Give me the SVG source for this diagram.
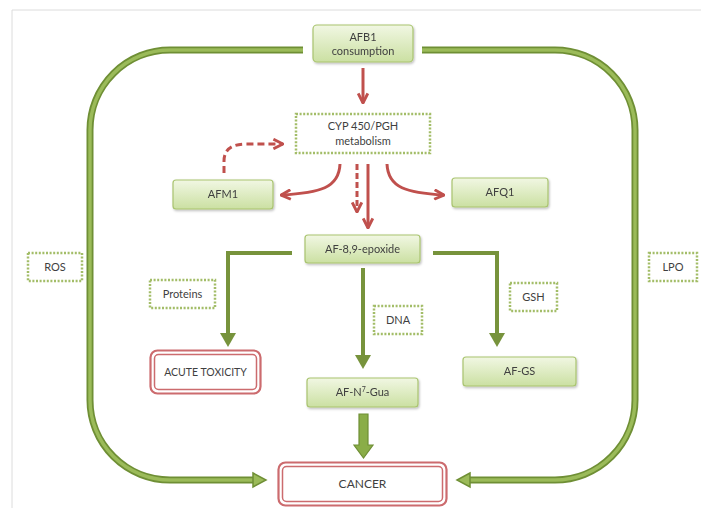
<svg xmlns="http://www.w3.org/2000/svg" width="701" height="508" viewBox="0 0 701 508">
<style>
text{font-family:Lato,"Liberation Sans",sans-serif;font-size:11px;fill:#3f3f3f;text-anchor:middle}
.gn{fill:url(#gg);stroke:#a9c46f;stroke-width:1.2}
.dot{fill:#fff;stroke:#a3bd68;stroke-width:2.5;stroke-dasharray:2 1.6}
.red{fill:none;stroke:#c0504d;stroke-width:3}
.rb{fill:#fff;stroke:#cc6b6e}
.go{fill:none;stroke:#6f8f35;stroke-width:7}
.gi{fill:none;stroke:#9bbb59;stroke-width:3.4}
.gl{fill:none;stroke:#77933c;stroke-width:4}
.gh{fill:#77933c}
</style>
<defs>
<linearGradient id="gg" x1="0" y1="0" x2="0" y2="1">
<stop offset="0" stop-color="#f1f7e3"/>
<stop offset="1" stop-color="#cbe0a2"/>
</linearGradient>
<filter id="sh" x="-10%" y="-20%" width="130%" height="150%">
<feDropShadow dx="1" dy="1.5" stdDeviation="1.2" flood-color="#000" flood-opacity="0.25"/>
</filter>
<marker id="ra" viewBox="0 0 10 10" refX="9" refY="5" markerWidth="12" markerHeight="12" markerUnits="userSpaceOnUse" orient="auto">
<path d="M1,1 L9,5 L1,9" fill="none" stroke="#c0504d" stroke-width="2.4"/>
</marker>
</defs>
<rect width="701" height="508" fill="#fff"/>
<path d="M12,508 V10 H701" fill="none" stroke="#dcdcdc" stroke-width="1"/>

<g id="connectors">
<path class="go" d="M303,50 H170 A80,80 0 0 0 90,130 V400 A80,80 0 0 0 170,480 H255"/>
<path class="gi" d="M303,50 H170 A80,80 0 0 0 90,130 V400 A80,80 0 0 0 170,480 H256"/>
<polygon points="253,473 266,480 253,487" fill="#9bbb59" stroke="#6f8f35" stroke-width="1.5"/>
<path class="go" d="M422,50 H555 A80,80 0 0 1 635,130 V400 A80,80 0 0 1 555,480 H469"/>
<path class="gi" d="M422,50 H555 A80,80 0 0 1 635,130 V400 A80,80 0 0 1 555,480 H468"/>
<polygon points="470,473 457,480 470,487" fill="#9bbb59" stroke="#6f8f35" stroke-width="1.5"/>

<path class="red" d="M363,68 V103" marker-end="url(#ra)"/>
<path class="red" d="M224,173 V161 Q224,144 246,144 H283" stroke-dasharray="7 4" marker-end="url(#ra)"/>
<path class="red" d="M340,164 C339,188 320,193 281,195" marker-end="url(#ra)"/>
<path class="red" d="M387,164 C388,188 407,193 444,195" marker-end="url(#ra)"/>
<path class="red" d="M357,164 V212" stroke-dasharray="6 3" marker-end="url(#ra)"/>
<path class="red" d="M368,164 V228" marker-end="url(#ra)"/>

<path class="gl" d="M292,253 H228 V336"/>
<polygon class="gh" points="220,333 236,333 228,347"/>
<path class="gl" d="M363,268 V358"/>
<polygon class="gh" points="355,355 371,355 363,369"/>
<path class="gl" d="M433,253 H497 V336"/>
<polygon class="gh" points="489,333 505,333 497,347"/>

<polygon points="359,414 368,414 368,445 373,445 363.5,458 354,445 359,445" fill="#8aad48" stroke="#6f8f35" stroke-width="1.2"/>
</g>

<g id="afb1" filter="url(#sh)"><rect class="gn" x="313" y="25" width="100" height="37" rx="4"/>
<text x="363" y="41">AFB1</text><text x="363" y="55">consumption</text></g>

<g id="cyp"><rect class="dot" x="296" y="114" width="134" height="39"/>
<text x="363" y="130">CYP 450/PGH</text><text x="363" y="145">metabolism</text></g>

<g id="afm1" filter="url(#sh)"><rect class="gn" x="173" y="180" width="100" height="29" rx="3"/>
<text x="223" y="198">AFM1</text></g>

<g id="afq1" filter="url(#sh)"><rect class="gn" x="452" y="178" width="96" height="29" rx="3"/>
<text x="500" y="196">AFQ1</text></g>

<g id="epoxide" filter="url(#sh)"><rect class="gn" x="305" y="235" width="115" height="28" rx="3"/>
<text x="362.5" y="253">AF-8,9-epoxide</text></g>

<g id="proteins"><rect class="dot" x="150" y="280" width="65" height="28"/>
<text x="182.5" y="298">Proteins</text></g>

<g id="dna"><rect class="dot" x="374" y="306" width="48" height="28"/>
<text x="398" y="324">DNA</text></g>

<g id="gsh"><rect class="dot" x="510" y="283" width="47" height="28"/>
<text x="533.5" y="301">GSH</text></g>

<g id="ros"><rect class="dot" x="28" y="253" width="54" height="28"/>
<text x="55" y="271">ROS</text></g>

<g id="lpo"><rect class="dot" x="649" y="253" width="48" height="28"/>
<text x="673" y="271">LPO</text></g>

<g id="acute"><rect class="rb" x="150.5" y="350.5" width="110" height="43" rx="7" stroke-width="2.2"/>
<rect class="rb" x="154.5" y="354.5" width="102" height="35" rx="4" stroke-width="1.5"/>
<text x="205.5" y="376" style="font-size:10.5px">ACUTE TOXICITY</text></g>

<g id="afgua" filter="url(#sh)"><rect class="gn" x="307" y="378" width="111" height="29" rx="3"/>
<text x="362.5" y="396">AF-N<tspan dy="-4" style="font-size:7px">7</tspan><tspan dy="4">-Gua</tspan></text></g>

<g id="afgs" filter="url(#sh)"><rect class="gn" x="463" y="357" width="113" height="29" rx="3"/>
<text x="519.5" y="375">AF-GS</text></g>

<g id="cancer"><rect class="rb" x="278.5" y="462.5" width="168" height="43" rx="7" stroke-width="2.2"/>
<rect class="rb" x="282.5" y="466.5" width="160" height="35" rx="4" stroke-width="1.5"/>
<text x="362.5" y="488" style="font-size:12px">CANCER</text></g>
</svg>
